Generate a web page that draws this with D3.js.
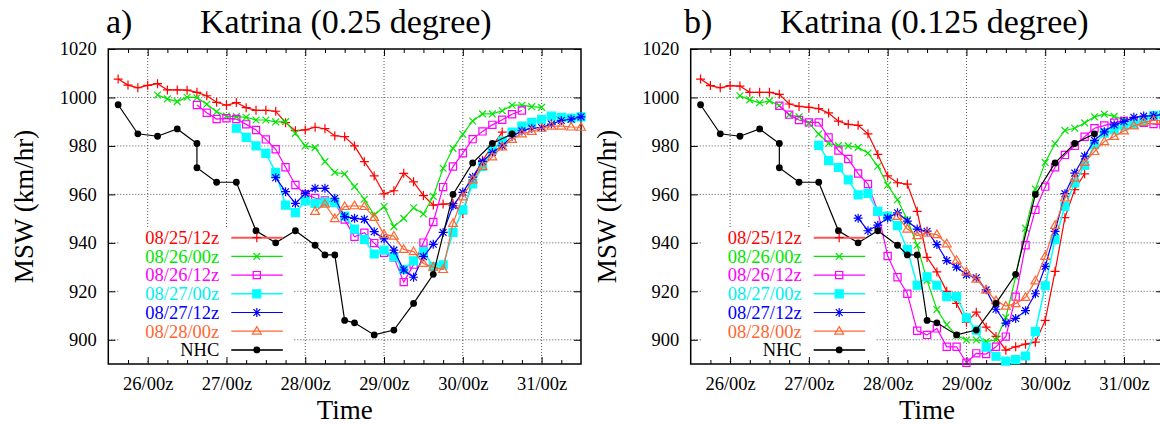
<!DOCTYPE html>
<html>
<head>
<meta charset="utf-8">
<script src="https://cdn.jsdelivr.net/npm/d3@7"></script>
<style>
  body { margin: 0; background: #fff; }
  text { font-family: "Liberation Serif", "Times New Roman", serif; }
</style>
</head>
<body>
<svg id="chart" width="1160" height="426"></svg>
<script>
// forecast output times, hours after 08/25 00z (every 3h)
const hours = [15, 18, 21, 24, 27, 30, 33, 36, 39, 42, 45, 48, 51, 54, 57, 60, 63, 66, 69, 72,
  75, 78, 81, 84, 87, 90, 93, 96, 99, 102, 105, 108, 111, 114, 117, 120, 123, 126, 129, 132,
  135, 138, 141, 144, 147, 150, 153, 156];

const runLabels = ["08/25/12z", "08/26/00z", "08/26/12z", "08/27/00z", "08/27/12z", "08/28/00z"];
const runFirstHour = [15, 27, 39, 51, 63, 75];

const dayTicks = [24, 48, 72, 96, 120, 144];
const dayLabels = ["26/00z", "27/00z", "28/00z", "29/00z", "30/00z", "31/00z"];
const mswTicks = [900, 920, 940, 960, 980, 1000, 1020];

// NHC best track
const nhcHours = [15, 21, 27, 33, 39, 39, 45, 51, 57, 63, 69, 75, 78, 81, 84, 87, 93, 99, 105, 111, 117, 123, 129, 135];
const nhcMsw = [997, 985, 984, 987, 981, 971, 965, 965, 945, 940, 945, 939, 935, 935, 908, 907, 902, 904, 915, 927, 960, 973, 981, 985];

// a) 0.25 degree runs
const a0825_12z = [1007.6, 1005.1, 1004, 1005, 1005.7, 1003.1, 1003.1, 1003, 1002.1, 1000.7, 998, 996.8, 997.9, 995.8,
  994.7, 994.7, 994.3, 989.6, 986.3, 986.6, 987.7, 987.1, 984.2, 983.8, 980, 973.5, 967.6, 960.2, 961.5, 968.7,
  965.2, 959.5, 955.6, 956, 956.2, 952, 966, 974, 980, 985.7];
const a0826_00z = [1001, 999.4, 998.3, 1000.1, 999.9, 997.2, 994.1, 992.3, 992.1, 991.8, 990.7, 990.7, 989.9, 990,
  985.2, 980, 979.3, 973.5, 969.1, 968.4, 963.2, 958, 951.5, 955, 946.7, 950.1, 954.5, 951.9, 959.2, 970.8,
  979, 984.8, 990.3, 993.2, 993.2, 994.5, 996.8, 996.8, 996.2, 995.9];
const a0826_12z = [996.9, 993.7, 991.1, 991.4, 991.1, 988.9, 986.6, 982.7, 978.6, 971.2, 963.9, 960, 958.5, 957.5,
  956.5, 949.6, 942.5, 944.2, 939.9, 935.9, 934, 923.8, 931, 940.1, 948.6, 963, 971.5, 977, 982.8, 986,
  988.7, 990.8, 993.1, 994.6];
const a0827_00z = [987.3, 983.5, 980, 976.9, 969.1, 955.6, 952.5, 957.3, 956.3, 956.8, 956.6, 951, 945.7, 941.4,
  935.4, 937, 934.3, 929, 932.6, 936.4, 930.2, 930.9, 944.3, 953.6, 964.3, 971.5, 978.3, 982, 985.7, 988.2,
  989.7, 991, 992.3, 991.8, 991.5, 992];
const a0827_12z = [966.9, 961.1, 956.3, 960.4, 962.5, 962.5, 958.4, 950.8, 950.1, 949.7, 944.6, 941.6, 937, 928.8,
  925.8, 934.3, 939.4, 944.3, 955.3, 960.8, 967.1, 973.6, 977.3, 980, 984, 986.2, 987.3, 987.6, 989, 990.5,
  991, 992];
const a0828_00z = [953, 956, 950, 955, 955.3, 955, 950.5, 943.5, 942.8, 937.3, 936.4, 931.5, 930, 929, 948, 959,
  966, 971.5, 975.5, 979.6, 982.7, 985, 986, 987.3, 988.2, 988.2, 987.8, 987.7];

// b) 0.125 degree runs
const b0825_12z = [1007.6, 1004.9, 1004, 1004.9, 1004.7, 1002.1, 1002.1, 1002.1, 1001.3, 997.3, 996.3, 995.9, 995.4,
  993.6, 990.2, 988.9, 988.5, 985, 976.5, 967.6, 964.8, 964.2, 953, 934, 928, 920, 915, 907.2, 911.4, 905.2,
  901.4, 895.7, 897.1, 898.2, 899, 908, 928.2, 950.4, 962, 968.5];
const b0826_00z = [1000.7, 999, 997.8, 998.6, 996.7, 992.8, 992, 989.4, 984.9, 981, 980.1, 980, 979.4, 977.1,
  971.6, 963.8, 957.8, 949.5, 939, 924.5, 912.5, 906.2, 901.8, 899.9, 899.9, 899.3, 899.9, 909.2, 926, 946,
  962.2, 973.2, 981, 986.4, 987.3, 989.5, 992, 993.1, 992.2, 990.8];
const b0826_12z = [996.6, 992.9, 990.7, 989.7, 989.7, 983.5, 978.1, 974.6, 968.6, 964.3, 953, 934.6, 925.8, 919,
  903.7, 902, 904.7, 897.1, 897.1, 890.5, 894.4, 894.1, 897.1, 901.3, 917.8, 939, 953.6, 963.2, 971.2, 976.3,
  980, 983.8, 987.3, 988.4, 989.6, 990.3, 990, 989.5, 989, 988.8];
const b0827_00z = [980.2, 973.9, 971.1, 966, 959.8, 960.4, 953, 951, 947.1, 937.2, 922.5, 926, 922.5, 917.8, 917.8,
  909, 904, 897, 893.2, 891.2, 891.8, 893.3, 903.4, 922.3, 941.3, 955, 964.7, 972, 980.5, 985.3, 986.6, 988.3,
  989, 990.5, 992.5, 992.8];
const b0827_12z = [950.2, 945, 947.3, 950.3, 952.4, 949, 945.7, 944.8, 939.3, 932.7, 930, 926.8, 925.6, 920.6,
  912.6, 906.9, 908.8, 912, 919, 930.3, 944.7, 960.3, 968.8, 975.8, 982.3, 985.8, 988.7, 990.1, 991.8, 992.3,
  992.5, 993];
const b0828_00z = [950.9, 945.7, 943, 944, 943.4, 939.6, 932.8, 928, 925, 920.6, 916.1, 913.9, 914.9, 917.5, 924.3,
  934.4, 947.2, 958.5, 966.7, 973.2, 977.7, 981.8, 983.9, 986.2, 988.3, 989.7, 990.5, 990.5];

const panelRuns = [
  [a0825_12z, a0826_00z, a0826_12z, a0827_00z, a0827_12z, a0828_00z],
  [b0825_12z, b0826_00z, b0826_12z, b0827_00z, b0827_12z, b0828_00z]
];
const panelTags = ["a)", "b)"];
const panelTitles = ["Katrina (0.25 degree)", "Katrina (0.125 degree)"];

// styles
const runColors = ["#ff0000", "#00e600", "#ff00ff", "#00ffff", "#0000ff", "#ff6633"];
const runMarks = ["plus", "cross", "square", "fsquare", "star", "triangle"];

const svg = d3.select("#chart");
svg.append("rect").attr("width", 1160).attr("height", 426).attr("fill", "#fff");

const plotW = 472.7, plotTop = 49, plotBottom = 364;
const panelLeft = [108.3, 690.7];
const tagX = [106, 684], titleX = [200, 780];
const ylabX = [33, 616];

function markPath(type, x, y) {
  var p = d3.path();
  if (type === "plus" || type === "star") {
    var s = 4.5;
    p.moveTo(x - s, y); p.lineTo(x + s, y);
    p.moveTo(x, y - s); p.lineTo(x, y + s);
  }
  if (type === "cross" || type === "star") {
    var c = 3.4;
    p.moveTo(x - c, y - c); p.lineTo(x + c, y + c);
    p.moveTo(x - c, y + c); p.lineTo(x + c, y - c);
  }
  if (type === "square") p.rect(x - 3.6, y - 3.6, 7.2, 7.2);
  if (type === "fsquare") p.rect(x - 4, y - 4, 8, 8);
  if (type === "triangle") {
    p.moveTo(x, y - 4.6); p.lineTo(x + 4.4, y + 3); p.lineTo(x - 4.4, y + 3); p.closePath();
  }
  return p.toString();
}

function drawMark(g, type, x, y, color) {
  if (type === "circle") {
    g.append("circle").attr("cx", x).attr("cy", y).attr("r", 3.4).attr("fill", color);
    return;
  }
  g.append("path").attr("d", markPath(type, x, y))
    .attr("fill", type === "fsquare" ? color : "none")
    .attr("stroke", color).attr("stroke-width", 1.2);
}

panelRuns.forEach(function(runs, pi) {
  var left = panelLeft[pi], right = left + plotW;
  var x = d3.scaleLinear().domain([12, 156]).range([left, right]);
  var y = d3.scaleLinear().domain([890, 1020]).range([plotBottom, plotTop]);
  var g = svg.append("g");

  // grid
  var grid = g.append("g").attr("stroke", "#555").attr("stroke-width", 1).attr("stroke-dasharray", "1,2");
  dayTicks.forEach(function(h) {
    grid.append("line").attr("x1", x(h)).attr("x2", x(h)).attr("y1", plotTop).attr("y2", plotBottom);
  });
  mswTicks.slice(0, -1).forEach(function(v) {
    grid.append("line").attr("x1", left).attr("x2", right).attr("y1", y(v)).attr("y2", y(v));
  });

  // opaque key box
  g.append("rect").attr("x", left + 11).attr("y", 227).attr("width", 174).attr("height", 132).attr("fill", "#fff");

  // axes: ticks pointing inward
  var minor = d3.range(18, 156, 6).filter(function(h) { return h % 24 !== 0; });
  var xAxis = d3.axisBottom(x).tickValues(dayTicks).tickSize(-7).tickPadding(13)
    .tickFormat(function(d, i) { return dayLabels[i]; });
  g.append("g").attr("transform", "translate(0," + plotBottom + ")").call(xAxis);
  g.append("g").attr("transform", "translate(0," + plotBottom + ")")
    .call(d3.axisBottom(x).tickValues(minor).tickSize(-4).tickFormat(""));
  g.append("g").attr("transform", "translate(0," + plotTop + ")")
    .call(d3.axisTop(x).tickValues(dayTicks).tickSize(-7).tickFormat(""));
  g.append("g").attr("transform", "translate(0," + plotTop + ")")
    .call(d3.axisTop(x).tickValues(minor).tickSize(-4).tickFormat(""));
  g.append("g").attr("transform", "translate(" + left + ",0)")
    .call(d3.axisLeft(y).tickValues(mswTicks).tickSize(-7).tickPadding(11.5).tickFormat(d3.format("d")));
  g.append("g").attr("transform", "translate(" + right + ",0)")
    .call(d3.axisRight(y).tickValues(mswTicks).tickSize(-7).tickFormat(""));
  g.selectAll(".domain").remove();
  g.selectAll(".tick line").attr("stroke", "#000");
  g.selectAll(".tick text").attr("font-family", "Liberation Serif").attr("font-size", 18.5).attr("fill", "#000");

  // border
  g.append("rect").attr("x", left).attr("y", plotTop).attr("width", plotW).attr("height", plotBottom - plotTop)
    .attr("fill", "none").attr("stroke", "#000").attr("stroke-width", 1.5);

  // model runs
  var line = d3.line().x(function(d) { return x(d[0]); }).y(function(d) { return y(d[1]); });
  runs.forEach(function(vals, ri) {
    var start = hours.indexOf(runFirstHour[ri]);
    var pts = vals.map(function(v, j) { return [hours[start + j], v]; });
    var sg = g.append("g");
    sg.append("path").attr("d", line(pts)).attr("fill", "none")
      .attr("stroke", runColors[ri]).attr("stroke-width", ri === 3 ? 1.5 : 1.2);
    pts.forEach(function(p) { drawMark(sg, runMarks[ri], x(p[0]), y(p[1]), runColors[ri]); });
  });

  // NHC
  var nhc = nhcHours.map(function(h, j) { return [h, nhcMsw[j]]; });
  var ng = g.append("g");
  ng.append("path").attr("d", line(nhc)).attr("fill", "none").attr("stroke", "#000").attr("stroke-width", 1.2);
  nhc.forEach(function(p) { drawMark(ng, "circle", x(p[0]), y(p[1]), "#000"); });

  // key
  var keyLabels = runLabels.concat(["NHC"]);
  var keyColors = runColors.concat(["#000"]);
  var keyMarks = runMarks.concat(["circle"]);
  keyLabels.forEach(function(lab, k) {
    var ky = 237.7 + k * 18.7;
    var tx = left + 111;
    g.append("text").attr("x", tx).attr("y", ky + 6.3).attr("text-anchor", "end")
      .attr("font-size", 18.5).attr("fill", keyColors[k] === "#00ffff" ? "#00f0f0" : keyColors[k]).text(lab);
    g.append("line").attr("x1", tx + 12).attr("x2", tx + 63.5).attr("y1", ky).attr("y2", ky)
      .attr("stroke", k === 0 ? "#ff5555" : (k === 6 ? "#333" : keyColors[k]))
      .attr("stroke-width", k === 0 || k === 6 ? 2 : (k === 3 ? 1.5 : 1.2));
    drawMark(g, keyMarks[k], tx + 37.5, ky, keyColors[k]);
  });

  // titles and axis labels
  svg.append("text").attr("x", tagX[pi]).attr("y", 32.5).attr("font-size", 34).text(panelTags[pi]);
  svg.append("text").attr("x", titleX[pi]).attr("y", 32.5).attr("font-size", 34).text(panelTitles[pi]);
  svg.append("text").attr("x", (left + right) / 2).attr("y", 419).attr("text-anchor", "middle")
    .attr("font-size", 27).text("Time");
  svg.append("text").attr("transform", "translate(" + ylabX[pi] + "," + ((plotTop + plotBottom) / 2) + ") rotate(-90)")
    .attr("text-anchor", "middle").attr("font-size", 27).text("MSW (km/hr)");
});
</script>
</body>
</html>
